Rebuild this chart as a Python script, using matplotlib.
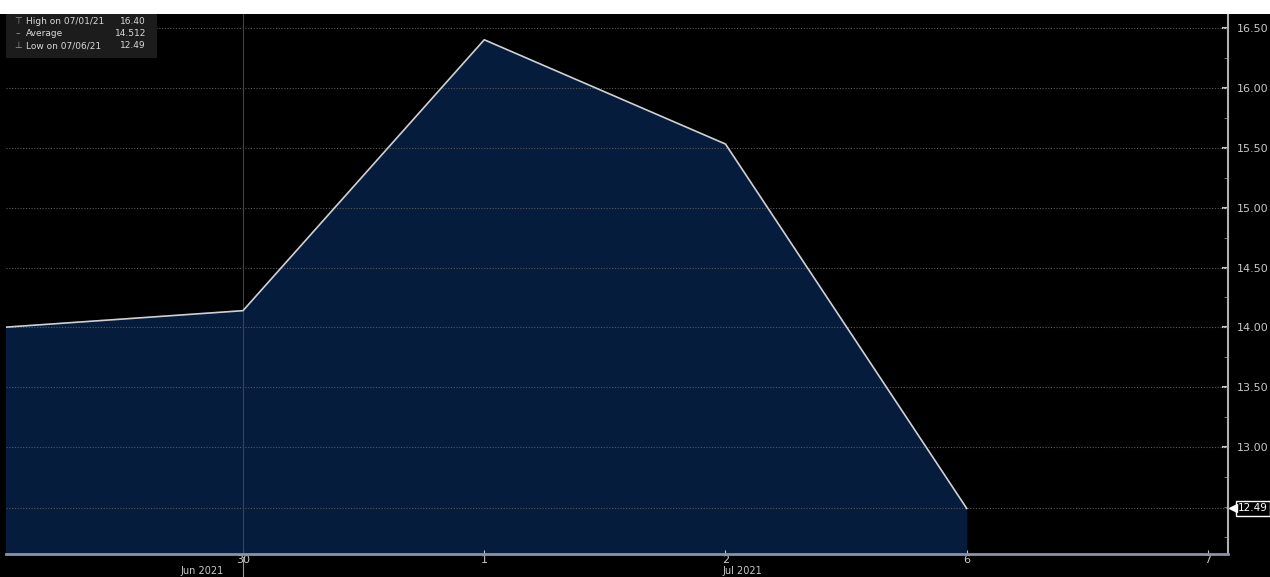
import matplotlib.pyplot as plt
from matplotlib.ticker import MultipleLocator, FixedLocator
import numpy as np

# trading days (Jul 3-5 skipped), value per day
dates = ['06/29/21', '06/30/21', '07/01/21', '07/02/21', '07/06/21']
values = [14.00, 14.14, 16.40, 15.53, 12.49]
tick_labels = ['30', '1', '2', '6', '7']
tick_pos = [1, 2, 3, 4, 5]
month_labels = ['Jun 2021', 'Jul 2021']
month_pos = [0.83, 3.07]
y_ticks = [13.00, 13.50, 14.00, 14.50, 15.00, 15.50, 16.00, 16.50]

fg = '#c8c8c8'
fill_col = '#061c3c'

x = np.arange(len(values))

fig = plt.figure(figsize=(12.7, 5.77), dpi=100)
fig.patch.set_facecolor('black')
# white strip along the top
fig.patches.append(plt.Rectangle((0, 1 - 14 / 577), 1, 14 / 577, transform=fig.transFigure,
                                 facecolor='white', zorder=0))

ax = fig.add_axes([6 / 1270, 23 / 577, 1222 / 1270, 540 / 577])
ax.set_facecolor('black')

ax.fill_between(x, values, 11.0, color=fill_col, zorder=1)
ax.plot(x, values, color='#d0d0d0', linewidth=1.2, zorder=3)

ax.set_xlim(0.0176, 5.083)
ax.set_ylim(12.11, 16.615)

# dotted horizontal grid
for yv in y_ticks + [12.49]:
    ax.axhline(yv, color='#5a5a5a', linestyle=(0, (1, 1.5)), linewidth=0.8, zorder=2)
# month separator
ax.axvline(1, color='#34445e', linewidth=0.8, zorder=2)

ax.yaxis.tick_right()
ax.yaxis.set_major_locator(FixedLocator(y_ticks))
ax.yaxis.set_minor_locator(MultipleLocator(0.25))
ax.set_yticklabels([f'{v:.2f}' for v in y_ticks])
ax.tick_params(axis='y', which='major', colors=fg, labelsize=8, length=4, width=1.5,
               direction='in', pad=6)
ax.tick_params(axis='y', which='minor', colors='#888888', length=3, direction='in')

ax.set_xticks(tick_pos)
ax.set_xticklabels(tick_labels)
ax.tick_params(axis='x', colors=fg, labelsize=8, length=3, direction='in', pad=1)

for s in ['top', 'left']:
    ax.spines[s].set_visible(False)
ax.spines['right'].set_color('#b0b0b0')
ax.spines['right'].set_linewidth(1.5)
ax.spines['bottom'].set_color('#8a94a6')
ax.spines['bottom'].set_linewidth(2)

# month labels sit at the very bottom edge
for lbl, p in zip(month_labels, month_pos):
    ax.annotate(lbl, xy=(p, 0), xycoords=('data', 'axes fraction'),
                xytext=(0, -22), textcoords='offset pixels', ha='center', va='bottom',
                color=fg, fontsize=7, annotation_clip=False)
ax.plot([1, 1], [-0.005, -0.06], transform=ax.get_xaxis_transform(), clip_on=False,
        color='#9a9a9a', linewidth=0.8)

# last value tag
ax.plot([1.004], [values[-1]], transform=ax.get_yaxis_transform(), clip_on=False,
        marker='<', markersize=6, color='white', zorder=6)
ax.annotate(f'{values[-1]:.2f}', xy=(1.0, values[-1]), xycoords=('axes fraction', 'data'),
            xytext=(7, 0), textcoords='offset points', ha='left', va='center',
            color='white', fontsize=7.5,
            bbox=dict(boxstyle='square,pad=0.2', facecolor='black', edgecolor='white', linewidth=1))

# legend box top left
hi = max(values)
lo = min(values)
avg = np.mean(values)
ax.add_patch(plt.Rectangle((0, 1 - 44 / 540), 151 / 1222, 44 / 540, transform=ax.transAxes,
                           facecolor='#1c1c1c', edgecolor='none', zorder=5))
rows = [
    ('⊤', f'High on {dates[int(np.argmax(values))]}', f'{hi:.2f}'),
    ('–', 'Average', f'{avg:.3f}'),
    ('⊥', f'Low on {dates[int(np.argmin(values))]}', f'{lo:.2f}'),
]
for i, (sym, name, val) in enumerate(rows):
    yy = 1 - (8 + i * 12) / 540
    ax.text(12 / 1222, yy, sym, transform=ax.transAxes, color='#9a9a9a', fontsize=6.5,
            ha='center', va='center', zorder=6)
    ax.text(20 / 1222, yy, name, transform=ax.transAxes, color='#d8d8d8', fontsize=6.5,
            ha='left', va='center', zorder=6)
    ax.text(140 / 1222, yy, val, transform=ax.transAxes, color='#d8d8d8', fontsize=6.5,
            ha='right', va='center', zorder=6)

fig.savefig('out.png', dpi=100, facecolor=fig.get_facecolor())
